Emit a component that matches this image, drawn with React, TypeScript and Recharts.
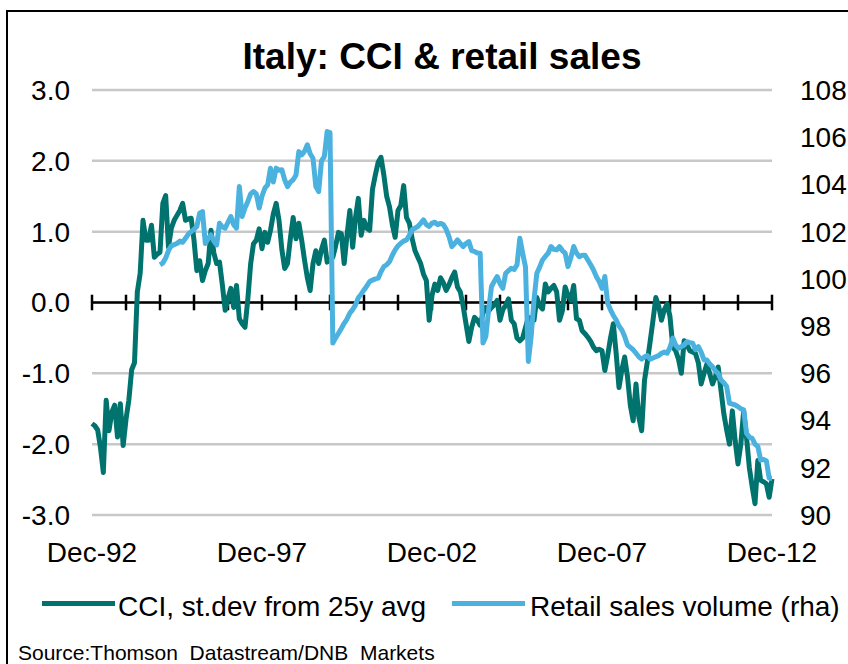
import React from "react";
import {
  LineChart,
  Line,
  XAxis,
  YAxis,
  CartesianGrid,
  ReferenceLine,
} from "recharts";

// months since Dec-92 (0..240), monthly data
const xTickMonths = [0, 60, 120, 180, 240];
const xTickLabels = ["Dec-92", "Dec-97", "Dec-02", "Dec-07", "Dec-12"];
const leftTicks = [-3, -2, -1, 0, 1, 2, 3];
const rightTicks = [90, 92, 94, 96, 98, 100, 102, 104, 106, 108];
const yearMarks = [0, 12, 24, 36, 48, 60, 72, 84, 96, 108, 120, 132, 144, 156, 168, 180, 192, 204, 216, 228, 240];

// CCI, st.dev from 25y avg (Dec-92 .. Dec-12)
const cciValues = [
  -1.71, -1.74, -1.8, -2.05, -2.4, -1.38, -1.81, -1.55, -1.45, -1.9, -1.43, -2.02,
  -1.65, -1.38, -0.95, -0.85, 0.15, 0.41, 1.16, 0.88, 0.88, 1.09, 0.64, 0.68,
  0.71, 1.4, 1.51, 0.78, 1.05, 1.16, 1.23, 1.3, 1.4, 1.16, 1.18, 1.19,
  0.88, 0.45, 0.59, 0.31, 0.45, 0.55, 1.02, 0.7, 0.55, 0.57, 0.25, -0.11,
  0.05, 0.2, -0.07, 0.24, -0.23, -0.3, -0.35, 0.05, 0.55, 0.83, 0.88, 1.04,
  0.76, 0.99, 0.85, 1.02, 1.25, 1.4, 1.16, 0.75, 0.48, 0.55, 0.9, 1.2,
  0.9, 1.12, 0.88, 0.6, 0.35, 0.17, 0.55, 0.73, 0.55, 0.75, 0.88, 0.57,
  0.6, 0.64, 0.8, 0.99, 0.97, 0.55, 0.95, 1.3, 0.78, 1.2, 1.47, 0.95,
  1.16, 1.05, 1.02, 1.6, 1.8, 1.98, 2.05, 1.8, 1.5, 1.35, 1.1, 0.92,
  1.3, 1.37, 1.65, 1.2, 1.12, 0.9, 0.73, 0.64, 0.55, 0.4, 0.31, -0.25,
  0.1, 0.26, 0.17, 0.35, 0.28, 0.17, 0.25, 0.35, 0.43, 0.22, 0.15, -0.05,
  -0.3, -0.55, -0.35, -0.21, -0.25, -0.32, -0.15, -0.07, -0.12, -0.07, -0.03, 0.03,
  -0.25, -0.1, -0.04, 0.05, -0.25, -0.3, -0.5, -0.54, -0.5, -0.35, -0.21, -0.22,
  -0.25, 0.07, -0.05, -0.09, 0.26, 0.15, 0.2, 0.24, 0.15, -0.25, -0.12, 0.22,
  0.1, 0.03, 0.24, -0.23, -0.25, -0.4, -0.44, -0.49, -0.55, -0.63, -0.68, -0.66,
  -0.68, -0.96, -0.75, -0.5, -0.3, -0.72, -1.2, -0.95, -0.77, -1.05, -1.45, -1.67,
  -1.15, -1.62, -1.81, -1.1, -0.84, -0.55, -0.25, 0.07, -0.05, -0.25, -0.1, -0.02,
  -0.2, -0.63, -0.68, -0.8, -1.0, -0.54, -0.6, -0.68, -0.7, -0.72, -0.85, -1.15,
  -1.0, -0.87, -1.0, -1.15, -1.05, -0.91, -1.24, -1.57, -1.8, -2.0, -1.53, -1.95,
  -2.28, -2.0, -1.53, -1.9, -2.33, -2.6, -2.84, -2.23, -2.51, -2.53, -2.56, -2.75,
  -2.49,
];

// Retail sales volume (rha), starts Dec-94 (month 24)
const retailStart = 24;
const retailValues = [
  100.6, 100.67, 100.88, 101.2, 101.4, 101.45, 101.5, 101.6, 101.55, 101.72, 101.9, 102.0,
  102.1, 102.22, 102.78, 102.85, 101.5, 101.7, 101.86, 101.6, 101.44, 102.36, 102.2, 102.15,
  102.4, 102.64, 102.3, 102.15, 103.91, 102.64, 103.0, 103.28, 103.6, 103.7, 103.6, 103.0,
  103.5, 103.84, 103.98, 104.69, 104.1, 104.69, 104.6, 104.62, 104.2, 103.91, 104.1, 104.2,
  104.4, 105.39, 105.25, 105.4, 105.68, 105.3, 105.11, 103.91, 103.7, 105.0, 105.18, 106.24,
  106.2, 97.28, 97.5, 97.7, 97.9, 98.12, 98.3, 98.55, 98.7, 98.9, 99.2, 99.35,
  99.53, 99.7, 99.89, 99.95, 100.0, 100.03, 100.3, 100.52, 100.6, 100.73, 101.0, 101.23,
  101.4, 101.51, 101.6, 101.65, 101.85, 102.08, 102.15, 102.22, 102.35, 102.5, 102.3, 102.22,
  102.36, 102.4, 102.3, 102.35, 102.3, 102.1, 101.79, 101.37, 101.5, 101.65, 101.5, 101.37,
  101.5, 101.58, 101.2, 101.16, 101.1, 101.09, 97.28, 97.56, 98.7, 99.68, 99.9, 100.1,
  99.8, 99.6, 100.24, 100.35, 100.45, 100.4, 100.59, 101.72, 101.09, 100.5, 96.5, 97.56,
  99.11, 100.24, 100.5, 100.8, 100.95, 101.09, 101.37, 101.25, 101.23, 101.37, 101.2, 101.09,
  100.52, 100.9, 101.37, 101.1, 100.94, 101.0, 101.0, 100.8, 100.6, 100.38, 100.1, 99.89,
  99.6, 100.1, 98.97, 98.69, 98.45, 98.26, 98.0, 97.84, 97.56, 97.2, 97.1, 97.0,
  96.85, 96.7, 96.6, 96.7, 96.75, 96.6, 96.65, 96.7, 96.75, 96.85, 96.9, 96.85,
  97.1, 97.49, 97.2, 97.06, 97.13, 97.2, 97.34, 97.3, 97.28, 97.0, 97.13, 96.9,
  96.57, 96.57, 96.4, 96.28, 96.1, 96.0, 95.72, 95.6, 95.44, 94.73, 94.7, 94.66,
  94.59, 94.5, 94.45, 93.46, 93.3, 93.25, 93.0, 92.9, 92.33, 92.35, 92.3, 91.56,
  91.56,
];

const TEAL = "#00736E";
const BLUE = "#4BB2DF";
const FONT = "'Liberation Sans', Arial, sans-serif";

const data = cciValues.map((v, i) => ({
  m: i,
  cci: v,
  retail: i >= retailStart ? retailValues[i - retailStart] : null,
}));

const tickStyle = { fontSize: 28, fill: "#000", fontFamily: FONT };

export default function App() {
  return (
    <div
      style={{
        position: "absolute",
        left: 0,
        top: 0,
        width: 848,
        height: 664,
        overflow: "hidden",
        background: "#fff",
        fontFamily: FONT,
      }}
    >
      {/* frame, runs off the right and bottom edges like the original */}
      <div
        style={{
          position: "absolute",
          left: 6,
          top: 10,
          width: 900,
          height: 700,
          border: "2px solid #000",
        }}
      />
      <div
        style={{
          position: "absolute",
          left: 0,
          width: 884,
          top: 38,
          textAlign: "center",
          fontSize: 37,
          lineHeight: "37px",
          fontWeight: "bold",
        }}
      >
        Italy: CCI &amp; retail sales
      </div>

      <div style={{ position: "absolute", left: 0, top: 0 }}>
        <LineChart
          width={848}
          height={664}
          data={data}
          margin={{ top: 90, right: 0, bottom: 99, left: 0 }}
        >
          <CartesianGrid
            yAxisId="left"
            vertical={false}
            stroke="#c8c8c8"
            strokeWidth={2.5}
          />
          <XAxis
            dataKey="m"
            type="number"
            domain={[0, 240]}
            ticks={xTickMonths}
            tickFormatter={(v: number) => xTickLabels[xTickMonths.indexOf(v)]}
            axisLine={false}
            tickLine={false}
            tickSize={0}
            tickMargin={27}
            height={50}
            tick={tickStyle}
            interval={0}
          />
          <YAxis
            yAxisId="left"
            domain={[-3, 3]}
            ticks={leftTicks}
            tickFormatter={(v: number) => v.toFixed(1)}
            axisLine={false}
            tickLine={false}
            tickSize={0}
            tickMargin={22}
            width={92}
            tick={tickStyle}
            interval={0}
          />
          <YAxis
            yAxisId="right"
            orientation="right"
            domain={[90, 108]}
            ticks={rightTicks}
            axisLine={false}
            tickLine={false}
            tickSize={0}
            tickMargin={28}
            width={76}
            tick={tickStyle}
            interval={0}
          />
          <ReferenceLine yAxisId="left" y={0} stroke="#000" strokeWidth={2.5} />
          {/* yearly tick marks on the zero line */}
          {yearMarks.map((m) => (
            <ReferenceLine
              key={m}
              yAxisId="left"
              segment={[
                { x: m, y: -0.11 },
                { x: m, y: 0.11 },
              ]}
              stroke="#000"
              strokeWidth={2.5}
            />
          ))}
          <Line
            yAxisId="left"
            dataKey="cci"
            stroke={TEAL}
            strokeWidth={5}
            dot={false}
            activeDot={false}
            strokeLinejoin="round"
            isAnimationActive={false}
          />
          <Line
            yAxisId="right"
            dataKey="retail"
            stroke={BLUE}
            strokeWidth={5}
            dot={false}
            activeDot={false}
            strokeLinejoin="round"
            connectNulls={false}
            isAnimationActive={false}
          />
        </LineChart>
      </div>

      {/* legend */}
      <div style={{ position: "absolute", left: 42, top: 601, width: 73, height: 5, background: TEAL }} />
      <div style={{ position: "absolute", left: 118, top: 593, fontSize: 28, lineHeight: "28px", whiteSpace: "pre" }}>
        CCI, st.dev from 25y avg
      </div>
      <div style={{ position: "absolute", left: 452, top: 601, width: 73, height: 5, background: BLUE }} />
      <div style={{ position: "absolute", left: 530, top: 593, fontSize: 28, lineHeight: "28px", whiteSpace: "pre" }}>
        Retail sales volume (rha)
      </div>

      <div style={{ position: "absolute", left: 18, top: 642, fontSize: 21, lineHeight: "21px", whiteSpace: "pre" }}>
        {"Source:Thomson  Datastream/DNB  Markets"}
      </div>
    </div>
  );
}
